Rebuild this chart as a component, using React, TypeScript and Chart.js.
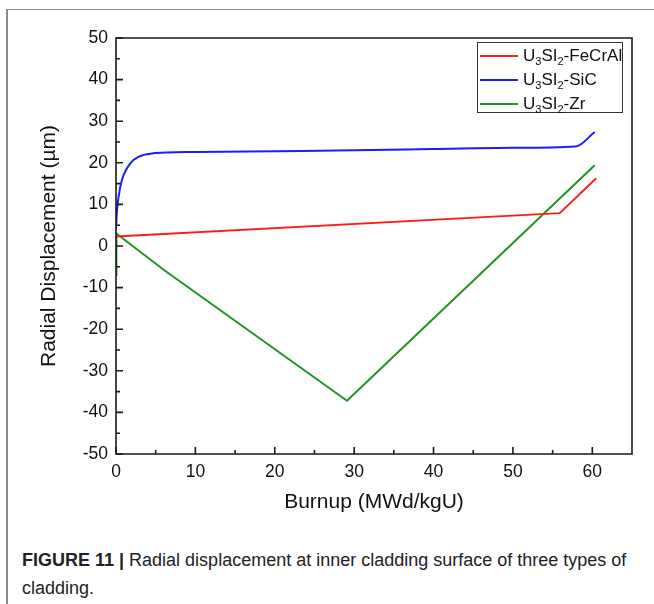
import React, { useEffect, useRef } from 'react';
import { Chart, registerables } from 'chart.js';

Chart.register(...registerables);

// ---- data ----
const feCrAlX = [0, 55.9, 60.5];
const feCrAlY = [2.3, 7.9, 16.3];

const sicX = [0, 0.1, 0.33, 0.75, 1.38, 2.2, 3.5, 4.7, 6.4, 10, 20, 30, 40, 50, 57.9, 60.3];
const sicY = [4, 8, 11.9, 15.9, 18.7, 20.7, 21.9, 22.3, 22.5, 22.6, 22.8, 23.0, 23.3, 23.6, 23.9, 27.4];

const zrX = [0, 0.05, 6, 29.1, 60.3];
const zrY = [-7, 3.0, -5.7, -37.2, 19.4];

const seriesSuffix = ['FeCrAl', 'SiC', 'Zr'];
const seriesColors = ['#ff1c1c', '#1c1cff', '#229322'];

const xTickValues = [0, 10, 20, 30, 40, 50, 60];
const xMinorValues = [5, 15, 25, 35, 45, 55];
const yTickValues = [-50, -40, -30, -20, -10, 0, 10, 20, 30, 40, 50];
const yMinorValues = [-45, -35, -25, -15, -5, 5, 15, 25, 35, 45];

const xTitle = 'Burnup (MWd/kgU)';
const yTitle = 'Radial Displacement (\u00b5m)';

const toPoints = (xs: number[], ys: number[]) => xs.map((x, i) => ({ x, y: ys[i] }));

const frameTicks = {
  id: 'frameTicks',
  afterDraw(chart: any) {
    const { ctx, chartArea: a, scales } = chart;
    const xs = scales.x;
    const ys = scales.y;
    ctx.save();
    ctx.strokeStyle = '#1a1a1a';
    ctx.lineWidth = 1.6;
    ctx.beginPath();
    ctx.rect(a.left, a.top, a.right - a.left, a.bottom - a.top);
    ctx.stroke();
    ctx.beginPath();
    xTickValues.forEach((v) => {
      const p = xs.getPixelForValue(v);
      ctx.moveTo(p, a.bottom);
      ctx.lineTo(p, a.bottom - 7);
    });
    xMinorValues.forEach((v) => {
      const p = xs.getPixelForValue(v);
      ctx.moveTo(p, a.bottom);
      ctx.lineTo(p, a.bottom - 4);
    });
    yTickValues.forEach((v) => {
      const p = ys.getPixelForValue(v);
      ctx.moveTo(a.left, p);
      ctx.lineTo(a.left + 7, p);
    });
    yMinorValues.forEach((v) => {
      const p = ys.getPixelForValue(v);
      ctx.moveTo(a.left, p);
      ctx.lineTo(a.left + 4, p);
    });
    ctx.stroke();
    ctx.restore();
  },
};

export default function App() {
  const canvasRef = useRef<HTMLCanvasElement | null>(null);

  useEffect(() => {
    if (!canvasRef.current) return;
    Chart.defaults.font.family = "'Liberation Sans', Arial, sans-serif";
    const ds = [
      toPoints(feCrAlX, feCrAlY),
      toPoints(sicX, sicY),
      toPoints(zrX, zrY),
    ];
    const chart = new Chart(canvasRef.current, {
      type: 'line',
      data: {
        datasets: ds.map((d, i) => ({
          label: 'U\u2083SI\u2082-' + seriesSuffix[i],
          data: d,
          borderColor: seriesColors[i],
          backgroundColor: seriesColors[i],
          borderWidth: 2,
          pointRadius: 0,
          fill: false,
          tension: 0,
          cubicInterpolationMode: i === 1 ? 'monotone' : 'default',
        })),
      },
      options: {
        responsive: false,
        animation: false,
        layout: { padding: { top: 38, right: 22, left: 0, bottom: 0 } },
        plugins: { legend: { display: false }, tooltip: { enabled: false } },
        scales: {
          x: {
            type: 'linear',
            min: 0,
            max: 65,
            afterFit: (s: any) => { s.height = 76; },
            afterBuildTicks: (s: any) => { s.ticks = xTickValues.map((v) => ({ value: v })); },
            grid: { display: false, drawTicks: false },
            border: { display: false },
            ticks: { padding: 8, color: '#111', font: { size: 17.5 } },
            title: { display: true, text: xTitle, color: '#111', font: { size: 21 }, padding: { top: 0, bottom: 15 } },
          },
          y: {
            type: 'linear',
            min: -50,
            max: 50,
            afterFit: (s: any) => { s.width = 116; },
            afterBuildTicks: (s: any) => { s.ticks = yTickValues.map((v) => ({ value: v })); },
            grid: { display: false, drawTicks: false },
            border: { display: false },
            ticks: { padding: 8, color: '#111', font: { size: 17.5 } },
            title: { display: true, text: yTitle, color: '#111', font: { size: 21 }, padding: { top: 37, bottom: 0 } },
          },
        },
      },
      plugins: [frameTicks],
    } as any);
    return () => chart.destroy();
  }, []);

  const legendTop = 42;
  return (
    <div style={{ position: 'absolute', left: 0, top: 0, width: 654, height: 604, background: '#fff', overflow: 'hidden', fontFamily: "'Liberation Sans', Arial, sans-serif" }}>
      <div style={{ position: 'absolute', left: 6, top: 9, width: 660, height: 620, borderTop: '1px solid #8a8a8a', borderLeft: '2px solid #8a8a8a' }} />
      <canvas ref={canvasRef} width={654} height={530} style={{ position: 'absolute', left: 0, top: 0, width: 654, height: 530 }} />
      <div style={{ position: 'absolute', left: 477, top: legendTop, width: 146, height: 71, border: '1px solid #333', boxSizing: 'border-box' }} />
      {seriesSuffix.map((s, i) => {
        const cy = legendTop + 13.7 + 24 * i;
        return (
          <React.Fragment key={s}>
            <div style={{ position: 'absolute', left: 480, top: cy - 1, width: 38, height: 2, background: seriesColors[i] }} />
            <div style={{ position: 'absolute', left: 523, top: cy - 10, height: 20, lineHeight: '20px', fontSize: 17, color: '#111', whiteSpace: 'nowrap' }}>
              U<span style={{ fontSize: 11, verticalAlign: '-4px', lineHeight: 0 }}>3</span>SI<span style={{ fontSize: 11, verticalAlign: '-4px', lineHeight: 0 }}>2</span>-{s}
            </div>
          </React.Fragment>
        );
      })}
      <div style={{ position: 'absolute', left: 22, top: 546, width: 630, fontSize: 18, lineHeight: '28px', color: '#222', whiteSpace: 'nowrap' }}>
        <span style={{ fontWeight: 'bold' }}>FIGURE 11 |</span> Radial displacement at inner cladding surface of three types of
        <br />
        cladding.
      </div>
    </div>
  );
}
